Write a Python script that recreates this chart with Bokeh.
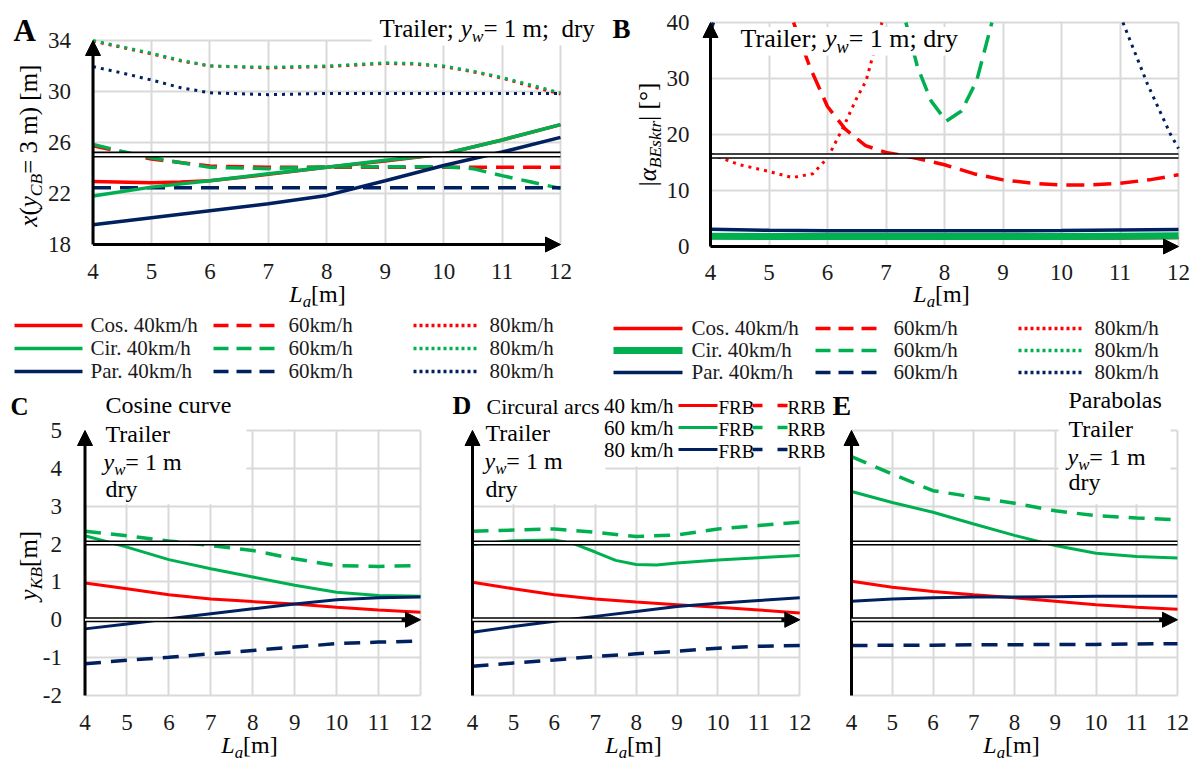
import math
from bokeh.plotting import figure
from bokeh.models import Range1d, FixedTicker, Label, Arrow, NormalHead, BoxAnnotation
from bokeh.layouts import column, row
from bokeh.embed import file_html
from bokeh.resources import INLINE
from bokeh.core.properties import value

# ---------------- data ----------------
LA = [4, 5, 6, 7, 8, 9, 10, 11, 12]
A_YTICKS = [18, 22, 26, 30, 34]
B_YTICKS = [0, 10, 20, 30, 40]
CDE_YTICKS = [-2, -1, 0, 1, 2, 3, 4, 5]

# Panel A: x(y_CB = 3 m) [m]
A_COS40_X = [4, 5, 5.5, 6, 7, 8, 9, 10, 11, 12]
A_COS40 = [22.95, 22.85, 22.9, 23.0, 23.5, 24.05, 24.55, 25.1, 26.2, 27.4]
A_CIR40 = [21.8, 22.5, 23.0, 23.55, 24.05, 24.6, 25.1, 26.2, 27.4]
A_PAR40 = [19.55, 20.1, 20.65, 21.2, 21.85, 23.0, 24.2, 25.25, 26.4]
A_COS60_X = [4, 4.5, 5, 6, 7, 8, 9, 10, 11, 12]
A_COS60 = [25.75, 25.25, 24.7, 24.15, 24.05, 24.05, 24.05, 24.05, 24.05, 24.05]
A_CIR60_X = [4, 4.5, 5, 6, 7, 8, 9, 10, 10.5, 11, 11.5, 12]
A_CIR60 = [25.85, 25.3, 24.8, 24.05, 23.95, 24.1, 24.1, 24.1, 23.95, 23.4, 22.9, 22.4]
A_PAR60 = [22.45, 22.45, 22.45, 22.45, 22.45, 22.45, 22.45, 22.45, 22.45]
A_DOT_X = [4, 4.5, 5, 5.5, 6, 7, 8, 9, 9.5, 10, 10.5, 11, 11.5, 12]
A_COS80 = [33.95, 33.45, 32.95, 32.4, 32.0, 31.85, 31.95, 32.2, 32.15, 31.95, 31.55, 31.05, 30.4, 29.8]
A_CIR80 = [34.0, 33.5, 33.0, 32.45, 32.0, 31.9, 32.0, 32.25, 32.2, 32.0, 31.6, 31.1, 30.5, 29.9]
A_PAR80_X = [4, 4.5, 5, 5.5, 6, 7, 8, 9, 10, 11, 12]
A_PAR80 = [31.95, 31.45, 30.9, 30.3, 29.9, 29.75, 29.85, 29.85, 29.85, 29.85, 29.85]
A_LIMIT = 25.05

# Panel B: |alpha_BEsktr| [deg]  (curves leave the chart at 40)
B_COS40 = [1.5, 1.45, 1.4, 1.4, 1.4, 1.4, 1.45, 1.45, 1.5]
B_CIR40 = [1.85, 1.8, 1.8, 1.8, 1.8, 1.8, 1.8, 1.85, 1.9]
B_PAR40 = [3.1, 2.9, 2.8, 2.8, 2.8, 2.8, 2.85, 2.95, 3.05]
B_COS60_X = [5.42, 5.7, 6.0, 6.3, 6.65, 7.0, 7.5, 8, 8.5, 9, 9.5, 10, 10.5, 11, 11.5, 12]
B_COS60 = [40, 32, 25, 21, 18, 16.8, 15.8, 14.6, 13, 11.9, 11.3, 11, 11, 11.3, 11.9, 12.8]
B_CIR60_X = [7.34, 7.54, 7.77, 8.03, 8.29, 8.55, 8.81]
B_CIR60 = [40, 32, 26, 22.4, 24.2, 29.6, 40]
B_PAR60_X = [4.0, 4.05]
B_PAR60 = [38.5, 40.0]
B_COS80_X = [4, 4.5, 5, 5.4, 5.75, 6, 6.27, 6.5, 6.66, 6.93]
B_COS80 = [16.5, 14.6, 13.4, 12.3, 13.0, 15.8, 21.3, 26.5, 29.6, 40]
B_PAR80_X = [11.05, 11.47, 11.86, 12]
B_PAR80 = [40, 29.0, 20.1, 17.5]
B_LIMIT = 16.15

# Panels C, D, E: y_KB [m]
C_FRB40 = [0.97, 0.82, 0.66, 0.55, 0.48, 0.42, 0.33, 0.26, 0.2]
C_FRB60 = [2.22, 1.92, 1.59, 1.35, 1.13, 0.91, 0.73, 0.64, 0.62]
C_RRB60 = [2.34, 2.22, 2.08, 1.96, 1.83, 1.61, 1.43, 1.41, 1.43]
C_FRB80 = [-0.24, -0.11, 0.03, 0.16, 0.29, 0.42, 0.53, 0.58, 0.6]
C_RRB80 = [-1.16, -1.07, -0.99, -0.9, -0.81, -0.72, -0.63, -0.59, -0.56]

D_FRB40 = [0.99, 0.82, 0.66, 0.55, 0.47, 0.40, 0.33, 0.26, 0.18]
D_FRB60_X = [4, 5, 6, 6.5, 7, 7.5, 8, 8.5, 9, 10, 11, 12]
D_FRB60 = [1.99, 2.09, 2.11, 2.0, 1.79, 1.57, 1.46, 1.45, 1.5, 1.58, 1.64, 1.7]
D_RRB60 = [2.34, 2.37, 2.4, 2.31, 2.2, 2.24, 2.4, 2.49, 2.58]
D_FRB80 = [-0.33, -0.18, -0.04, 0.09, 0.22, 0.35, 0.44, 0.51, 0.58]
D_RRB80 = [-1.23, -1.14, -1.06, -0.97, -0.9, -0.83, -0.75, -0.7, -0.68]

E_FRB40 = [1.02, 0.86, 0.75, 0.66, 0.58, 0.49, 0.4, 0.33, 0.28]
E_FRB60 = [3.39, 3.1, 2.84, 2.53, 2.23, 1.96, 1.76, 1.67, 1.63]
E_RRB60 = [4.31, 3.85, 3.41, 3.24, 3.08, 2.88, 2.75, 2.69, 2.64]
E_FRB80 = [0.49, 0.55, 0.58, 0.6, 0.6, 0.61, 0.62, 0.62, 0.62]
E_RRB80 = [-0.68, -0.67, -0.67, -0.66, -0.66, -0.65, -0.65, -0.64, -0.63]
CDE_LIMIT = 2.03

LEG_GROUPS = ["Cos.", "Cir.", "Par."]
LEG_SPEEDS = ["40km/h", "60km/h", "80km/h"]
D_LEG_SPEEDS = ["40 km/h", "60 km/h", "80 km/h"]

# ---------------- styles ----------------
SERIF = "Liberation Serif"
TICK_FONT = "'Liberation Serif', serif"
RED, GREEN, NAVY = "#ff0000", "#00b050", "#002060"
GRID = "#d9d9d9"
DASH_TOP = "18 9"
DOT_TOP = "3 5"
DASH_BOT = "16 10"
COLORS = [RED, GREEN, NAVY]
MID = 0.34  # offset between the text anchor used by the renderer and the baseline (em)

REG_W = {" ": 250, "\u2002": 500, "(": 333, ")": 333, ";": 278, ".": 250, "/": 278,
         "=": 564, "[": 333, "]": 333, "|": 200, "\u00b0": 400,
         "A": 722, "B": 667, "C": 667, "E": 611, "F": 556, "K": 722, "L": 611,
         "P": 556, "R": 667, "T": 611,
         "a": 444, "b": 500, "c": 444, "d": 500, "e": 444, "h": 500, "i": 278,
         "k": 500, "l": 278, "m": 778, "n": 500, "o": 500, "r": 333, "s": 389,
         "t": 278, "u": 500, "v": 500, "w": 722, "y": 500, "x": 500}
ITA_W = {"x": 444, "y": 444, "w": 667, "L": 556, "a": 500, "C": 667, "B": 611,
         "K": 667, "E": 611, "s": 389, "k": 444, "t": 278, "r": 389, "\u03b1": 520}


def text_w(s, size, italic):
    tbl = ITA_W if italic else REG_W
    return sum(tbl.get(c, REG_W.get(c, 500)) for c in s) * size / 1000.0


class Frame:
    """maps page pixel positions to the data coordinates of one figure"""
    def __init__(self, ox, oy, xs, ye, ppx, ppy):
        self.ox, self.oy, self.xs, self.ye, self.ppx, self.ppy = ox, oy, xs, ye, ppx, ppy

    def x(self, ix):
        return self.xs + (ix - self.ox) / self.ppx

    def y(self, iy):
        return self.ye - (iy - self.oy) / self.ppy


def rich(p, fr, ix, iy, pieces, size, angle=0.0, align="left", color="black", style=None):
    """(ix, iy): start (or centre) of the text on its baseline, in page pixels"""
    sizes = [size * 0.7 if k == "s" else size for _, k in pieces]
    widths = [text_w(t, s, k != "n") for (t, k), s in zip(pieces, sizes)]
    total = sum(widths)
    pos = {"left": 0.0, "center": -total / 2.0, "right": -total}[align]
    for (t, k), s, w in zip(pieces, sizes, widths):
        base_down = 0.2 * size if k == "s" else 0.0
        down = base_down - MID * s
        if angle == 0:
            xo, yo = pos, -down
        else:
            xo, yo = down, pos
        fstyle = style if style else ("italic" if k != "n" else "normal")
        p.add_layout(Label(x=fr.x(ix), y=fr.y(iy), x_offset=xo, y_offset=yo, text=t,
                           angle=angle, text_font=SERIF, text_font_size="%.1fpx" % s,
                           text_font_style=fstyle, text_baseline="alphabetic",
                           text_align="left", text_color=color))
        pos += w


def make_panel(ox, oy, W, H, pl, pr, pt, pb, yr, yticks, show_y=True, xstand=19, ystand=22):
    ppx = (pr - pl) / 8.0
    ppy = (pb - pt) / float(yr[1] - yr[0])
    xs = 4 - pl / ppx
    xe = 12 + (W - pr) / ppx
    ys = yr[0] - (H - pb) / ppy
    ye = yr[1] + pt / ppy
    p = figure(width=W, height=H, x_range=Range1d(xs, xe), y_range=Range1d(ys, ye),
               output_backend="svg", toolbar_location=None, min_border=0)
    p.outline_line_color = None
    p.border_fill_color = "white"
    p.background_fill_color = "white"
    p.xaxis.ticker = FixedTicker(ticks=LA)
    p.yaxis.ticker = FixedTicker(ticks=yticks)
    p.xaxis.fixed_location = yr[0]
    p.yaxis.fixed_location = 4
    p.xgrid.ticker = FixedTicker(ticks=LA)
    p.ygrid.ticker = FixedTicker(ticks=yticks)
    p.xgrid.bounds = (4, 12)
    p.xgrid.cross_bounds = (yr[0], yr[1])
    p.ygrid.bounds = (yr[0], yr[1])
    p.ygrid.cross_bounds = (4, 12)
    p.grid.grid_line_color = GRID
    p.grid.grid_line_width = 2
    for axs in (p.xaxis, p.yaxis):
        axs.axis_line_color = None
        axs.major_tick_line_color = None
        axs.minor_tick_line_color = None
        axs.major_tick_in = 0
        axs.major_tick_out = 0
        axs.minor_tick_in = 0
        axs.minor_tick_out = 0
        axs.major_label_text_font = TICK_FONT
        axs.major_label_text_font_style = "normal"
        axs.major_label_text_font_size = "23px"
        axs.major_label_text_color = "#1a1a1a"
    p.xaxis.major_label_standoff = xstand
    p.yaxis.major_label_standoff = ystand
    p.yaxis.major_label_overrides = {t: str(t) for t in yticks}
    p.yaxis.visible = show_y
    return p, Frame(ox, oy, xs, ye, ppx, ppy)


def head():
    return NormalHead(size=15, fill_color="black", line_color="black", line_width=1)


def single_axes(p, ylo, yhi):
    p.add_layout(Arrow(end=head(), x_start=4, y_start=ylo, x_end=12, y_end=ylo,
                       line_width=3, line_color="black"))
    p.add_layout(Arrow(end=head(), x_start=4, y_start=ylo, x_end=4, y_end=yhi,
                       line_width=3, line_color="black"))


def double_line(p, yv, wb=5.5, ww=2.2):
    p.line([4, 12], [yv, yv], line_color="black", line_width=wb)
    p.line([4, 12], [yv, yv], line_color="white", line_width=ww)


def white_box(p, l, r, b, t):
    p.add_layout(BoxAnnotation(left=l, right=r, bottom=b, top=t, fill_color="white",
                               fill_alpha=1.0, line_color=None, line_alpha=0))


XLAB = [("L", "i"), ("a", "s"), (" [m]", "n")]
YW = [("y", "i"), ("w", "s"), ("= 1 m", "n")]

# ================= Panel A =================
figA, FrA = make_panel(0, 0, 600, 312, 92.5, 560, 40, 244, (18, 34), A_YTICKS, xstand=19, ystand=22)
figA.line(A_DOT_X, A_COS80, line_color=RED, line_width=3, line_dash=DOT_TOP)
figA.line(A_DOT_X, A_CIR80, line_color=GREEN, line_width=3, line_dash=DOT_TOP)
figA.line(A_PAR80_X, A_PAR80, line_color=NAVY, line_width=3, line_dash=DOT_TOP)
figA.line(A_COS60_X, A_COS60, line_color=RED, line_width=3.5, line_dash=DASH_TOP)
figA.line(A_CIR60_X, A_CIR60, line_color=GREEN, line_width=3.5, line_dash=DASH_TOP)
figA.line(LA, A_PAR60, line_color=NAVY, line_width=3.5, line_dash=DASH_TOP)
figA.line(A_COS40_X, A_COS40, line_color=RED, line_width=3.5)
figA.line(LA, A_CIR40, line_color=GREEN, line_width=3.5)
figA.line(LA, A_PAR40, line_color=NAVY, line_width=3.5)
double_line(figA, A_LIMIT, 6, 2.8)
white_box(figA, 8.77, 12.3, 33.6, 36)
single_axes(figA, 18, 34)
rich(figA, FrA, 13, 41, [("A", "n")], 31, style="bold")
rich(figA, FrA, 379, 36, [("Trailer; ", "n"), ("y", "i"), ("w", "s"), ("= 1 m;\u2002dry", "n")], 25)
rich(figA, FrA, 36, 142, [("x", "i"), ("(", "n"), ("y", "i"), ("CB", "s"), (" = 3 m) [m]", "n")],
     25, angle=math.pi / 2, align="center")
rich(figA, FrA, 320, 302, XLAB, 24, align="center")

# ================= Panel B =================
figB, FrB = make_panel(600, 0, 594, 312, 110, 578, 22, 246, (0, 40), B_YTICKS, xstand=18, ystand=21)
figB.line(B_COS80_X, B_COS80, line_color=RED, line_width=3, line_dash=DOT_TOP)
figB.line(B_PAR80_X, B_PAR80, line_color=NAVY, line_width=3, line_dash=DOT_TOP)
figB.line(B_COS60_X, B_COS60, line_color=RED, line_width=3.5, line_dash=DASH_TOP)
figB.line(B_CIR60_X, B_CIR60, line_color=GREEN, line_width=3.5, line_dash=DASH_TOP)
figB.line(B_PAR60_X, B_PAR60, line_color=NAVY, line_width=3.5)
figB.line(LA, B_COS40, line_color=RED, line_width=2.5)
figB.line(LA, B_CIR40, line_color=GREEN, line_width=7)
figB.line(LA, B_PAR40, line_color=NAVY, line_width=3.5)
double_line(figB, B_LIMIT, 5.5, 2.5)
white_box(figB, 4.45, 8.3, 34.1, 39.2)
single_axes(figB, 0, 40)
rich(figB, FrB, 612, 38, [("B", "n")], 27, style="bold")
rich(figB, FrB, 740, 47, [("Trailer; ", "n"), ("y", "i"), ("w", "s"), ("= 1 m; dry", "n")], 26)
rich(figB, FrB, 655, 134, [("|", "n"), ("\u03b1", "i"), ("BEsktr", "s"), ("| [\u00b0]", "n")],
     25, angle=math.pi / 2, align="center")
rich(figB, FrB, 944, 302, XLAB, 24, align="center")

# ================= legends under A and B =================
leg = figure(width=1194, height=73, x_range=Range1d(0, 1194), y_range=Range1d(385, 312),
             output_backend="svg", toolbar_location=None, min_border=0,
             x_axis_type=None, y_axis_type=None)
leg.grid.visible = False
leg.outline_line_color = None
LEG_LAYOUT = [
    dict(x0=[14, 213, 413], x1=[82, 279, 477], tx=[90, 288, 489], rows=[325, 348, 371], thick_cir=False),
    dict(x0=[613, 815, 1018], x1=[682, 883, 1083], tx=[691, 893, 1094], rows=[328, 350, 372], thick_cir=True),
]
LEG_DASH = [None, "15 8", "3 3"]
LEG_FS = 21
for lay in LEG_LAYOUT:
    for gi, grp in enumerate(LEG_GROUPS):
        yv = lay["rows"][gi]
        for si, spd in enumerate(LEG_SPEEDS):
            w = 3.5
            if si == 0 and gi == 1 and lay["thick_cir"]:
                w = 7
            kw = {} if LEG_DASH[si] is None else {"line_dash": LEG_DASH[si]}
            leg.line([lay["x0"][si], lay["x1"][si]], [yv, yv], line_color=COLORS[gi], line_width=w, **kw)
            txt = (grp + " " + spd) if si == 0 else spd
            leg.text(x=[lay["tx"][si]], y=[yv + 7 - MID * LEG_FS], text=[txt], text_font=value(SERIF),
                     text_font_size=value("%dpx" % LEG_FS), text_baseline=value("alphabetic"),
                     text_align=value("left"), text_color="#1a1a1a")


def bottom_common(p):
    double_line(p, CDE_LIMIT, 5, 2)
    p.add_layout(Arrow(end=head(), x_start=4, y_start=-2, x_end=4, y_end=5,
                       line_width=3, line_color="black"))
    p.add_layout(Arrow(end=head(), x_start=4, y_start=0, x_end=12, y_end=0,
                       line_width=5, line_color="black"))
    p.add_layout(Arrow(end=None, x_start=4, y_start=0, x_end=11.55, y_end=0,
                       line_width=2, line_color="white"))


def bottom_lines(p, x60, frb40, frb60, rrb60, frb80, rrb80):
    p.line(LA, rrb60, line_color=GREEN, line_width=3.5, line_dash=DASH_BOT)
    p.line(LA, rrb80, line_color=NAVY, line_width=3.5, line_dash=DASH_BOT)
    p.line(LA, frb40, line_color=RED, line_width=3)
    p.line(x60, frb60, line_color=GREEN, line_width=3)
    p.line(LA, frb80, line_color=NAVY, line_width=3)


# ================= Panel C =================
figC, FrC = make_panel(0, 385, 440, 376, 84.5, 420, 45, 310, (-2, 5), CDE_YTICKS, xstand=19, ystand=23)
bottom_lines(figC, LA, C_FRB40, C_FRB60, C_RRB60, C_FRB80, C_RRB80)
white_box(figC, 4.0, 7.85, 3.05, 5.5)
bottom_common(figC)
rich(figC, FrC, 10, 414, [("C", "n")], 25, style="bold")
rich(figC, FrC, 105, 413, [("Cosine curve", "n")], 24)
rich(figC, FrC, 105, 442, [("Trailer", "n")], 24)
rich(figC, FrC, 103, 470, YW, 24)
rich(figC, FrC, 105, 497, [("dry", "n")], 24)
rich(figC, FrC, 36, 562, [("y", "i"), ("KB", "s"), (" [m]", "n")], 25, angle=math.pi / 2, align="center")
rich(figC, FrC, 252, 753, XLAB, 24, align="center")

# ================= Panel D =================
figD, FrD = make_panel(440, 385, 386, 376, 32, 359.3, 45, 310, (-2, 5), CDE_YTICKS, show_y=False, xstand=19)
bottom_lines(figD, D_FRB60_X, D_FRB40, D_FRB60, D_RRB60, D_FRB80, D_RRB80)
white_box(figD, 4.0, 7.25, 3.05, 5.5)
white_box(figD, 7.25, 12.5, 4.05, 5.5)
bottom_common(figD)
rich(figD, FrD, 452, 414, [("D", "n")], 26, style="bold")
rich(figD, FrD, 486, 413, [("Circural arcs", "n")], 22)
rich(figD, FrD, 485, 441, [("Trailer", "n")], 24)
rich(figD, FrD, 484, 469, YW, 24)
rich(figD, FrD, 485, 497, [("dry", "n")], 24)
D_ROWS = [413, 435, 457]
for i, spd in enumerate(D_LEG_SPEEDS):
    bl = D_ROWS[i]
    ly = FrD.y(bl - 8)
    rich(figD, FrD, 673, bl, [(spd, "n")], 21, align="right")
    figD.add_layout(Arrow(end=None, x_start=FrD.x(678), y_start=ly, x_end=FrD.x(717), y_end=ly,
                          line_width=3, line_color=COLORS[i]))
    rich(figD, FrD, 718, bl, [("FRB", "n")], 19)
    figD.add_layout(Arrow(end=None, x_start=FrD.x(752), y_start=ly, x_end=FrD.x(787), y_end=ly,
                          line_width=3.5, line_color=COLORS[i], line_dash="10 15"))
    rich(figD, FrD, 787, bl, [("RRB", "n")], 19)
rich(figD, FrD, 636, 753, XLAB, 24, align="center")

# ================= Panel E =================
figE, FrE = make_panel(826, 385, 368, 376, 25, 351, 45, 310, (-2, 5), CDE_YTICKS, show_y=False, xstand=19)
bottom_lines(figE, LA, E_FRB40, E_FRB60, E_RRB60, E_FRB80, E_RRB80)
white_box(figE, 9.08, 11.83, 3.05, 5.5)
bottom_common(figE)
rich(figE, FrE, 832, 415, [("E", "n")], 28, style="bold")
rich(figE, FrE, 1068, 408, [("Parabolas", "n")], 24)
rich(figE, FrE, 1068, 437, [("Trailer", "n")], 24)
rich(figE, FrE, 1067, 465, YW, 24)
rich(figE, FrE, 1068, 490, [("dry", "n")], 24)
rich(figE, FrE, 1014, 753, XLAB, 24, align="center")

layout = column(row(figA, figB), leg, row(figC, figD, figE))
open("out.html", "w").write(file_html(layout, INLINE, title="Trailer y_KB charts"))
